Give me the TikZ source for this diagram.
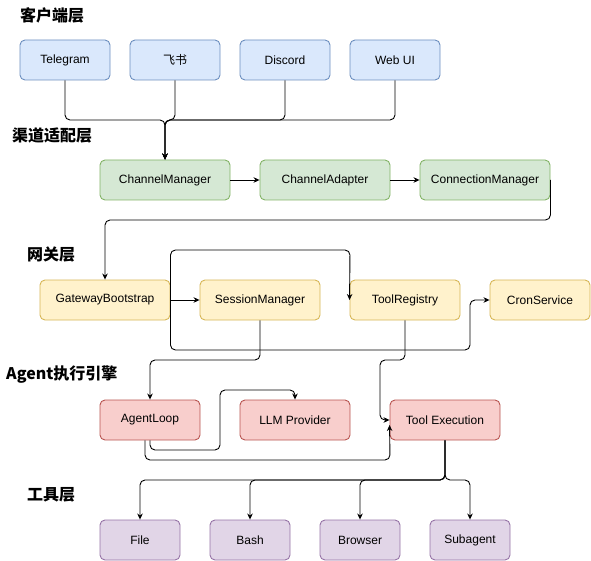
\documentclass[tikz,border=0pt]{standalone}
\usepackage{fontspec}
\setmainfont{Liberation Sans}
\newfontfamily\cjk{Noto Sans CJK SC}
\usetikzlibrary{arrows.meta}

\definecolor{clientfill}{HTML}{DAE8FC}
\definecolor{clientline}{HTML}{6C8EBF}
\definecolor{chanfill}{HTML}{D5E8D4}
\definecolor{chanline}{HTML}{82B366}
\definecolor{gatefill}{HTML}{FFF2CC}
\definecolor{gateline}{HTML}{D6B656}
\definecolor{agentfill}{HTML}{F8CECC}
\definecolor{agentline}{HTML}{B85450}
\definecolor{toolfill}{HTML}{E1D5E7}
\definecolor{toolline}{HTML}{9673A6}

\begin{document}
\begin{tikzpicture}[x=1pt,y=-1pt,
  box/.style={draw, rounded corners=5pt, minimum height=40pt, inner sep=0pt,
    line width=0.9pt, font=\fontsize{12}{14}\selectfont},
  client/.style={box, fill=clientfill, draw=clientline, minimum width=90pt},
  chan/.style={box, fill=chanfill, draw=chanline, minimum width=130pt},
  gate/.style={box, fill=gatefill, draw=gateline},
  agent/.style={box, fill=agentfill, draw=agentline},
  tool/.style={box, fill=toolfill, draw=toolline, minimum width=80pt},
  layer/.style={anchor=west, inner sep=0pt, font=\cjk\bfseries\fontsize{16}{18}\selectfont},
  link/.style={-{Stealth[length=6pt,width=5.5pt]}, rounded corners=5pt, line width=0.9pt}]

\useasboundingbox (0,0) rectangle (591,561);

% merge / split points
\coordinate (mergeC) at (165,120);
\coordinate (splitT) at (445,480);

% layer titles
\node [layer] (tclient) at (20,15) {客户端层};
\node [layer] (tchan) at (12,135) {渠道适配层};
\node [layer] (tgate) at (27,255) {网关层};
\node [layer] (tagent) at (6,375) {Agent执行引擎};
\node [layer] (ttool) at (27,495) {工具层};

% client layer
\node [client] (tg) at (65,60) {Telegram};
\node [client] (fs) at (175,60) {\cjk 飞书};
\node [client] (dc) at (285,60) {Discord};
\node [client] (web) at (395,60) {Web UI};

% channel layer
\node [chan] (cm) at (165,180) {ChannelManager};
\node [chan] (ca) at (325,180) {ChannelAdapter};
\node [chan] (conm) at (485,180) {ConnectionManager};

% gateway layer
\node [gate, minimum width=130pt] (gb) at (105,300) {GatewayBootstrap};
\node [gate, minimum width=120pt] (sm) at (260,300) {SessionManager};
\node [gate, minimum width=110pt] (tr) at (405,300) {ToolRegistry};
\node [gate, minimum width=100pt] (cs) at (540,300) {CronService};

% agent layer
\node [agent, minimum width=100pt] (al) at (150,420) {AgentLoop};
\node [agent, minimum width=110pt] (llm) at (295,420) {LLM Provider};
\node [agent, minimum width=110pt] (te) at (445,420) {Tool Execution};

% tool layer
\node [tool] (file) at (140,540) {File};
\node [tool] (bash) at (250,540) {Bash};
\node [tool] (brw) at (360,540) {Browser};
\node [tool] (sub) at (470,540) {Subagent};

% clients to channel
\draw [link] (tg.south) |- (mergeC) -- (cm.north);
\draw [link] (fs.south) |- (mergeC) -- (cm.north);
\draw [link] (dc.south) |- (mergeC) -- (cm.north);
\draw [link] (web.south) |- (mergeC) -- (cm.north);

% channel chain
\draw [link] (cm.east) -- (ca.west);
\draw [link] (ca.east) -- (conm.west);
\draw [link] (conm.east) |- (105,220) -- (gb.north);

% gateway
\draw [link] (gb.east) -- (sm.west);
\draw [link] (gb.east) |- (350,250) -- (tr.west);
\draw [link] (gb.east) |- (470,350) |- (cs.west);
\draw [link] (sm.south) |- (150,360) -- (al.north);
\draw [link] (tr.south) |- (380,360) |- (te.west);

% agent
\draw [link] (al.south) |- (220,450) |- (295,390) -- (llm.north);
\draw [link] ([xshift=-5pt]al.south) |- (390,460) -- ([yshift=-5pt]te.west);

% tools
\draw [link] (te.south) -- (splitT) -| (file.north);
\draw [link] (te.south) -- (splitT) -| (bash.north);
\draw [link] (te.south) -- (splitT) -| (brw.north);
\draw [link] (te.south) -- (splitT) -| (sub.north);

\end{tikzpicture}
\end{document}
